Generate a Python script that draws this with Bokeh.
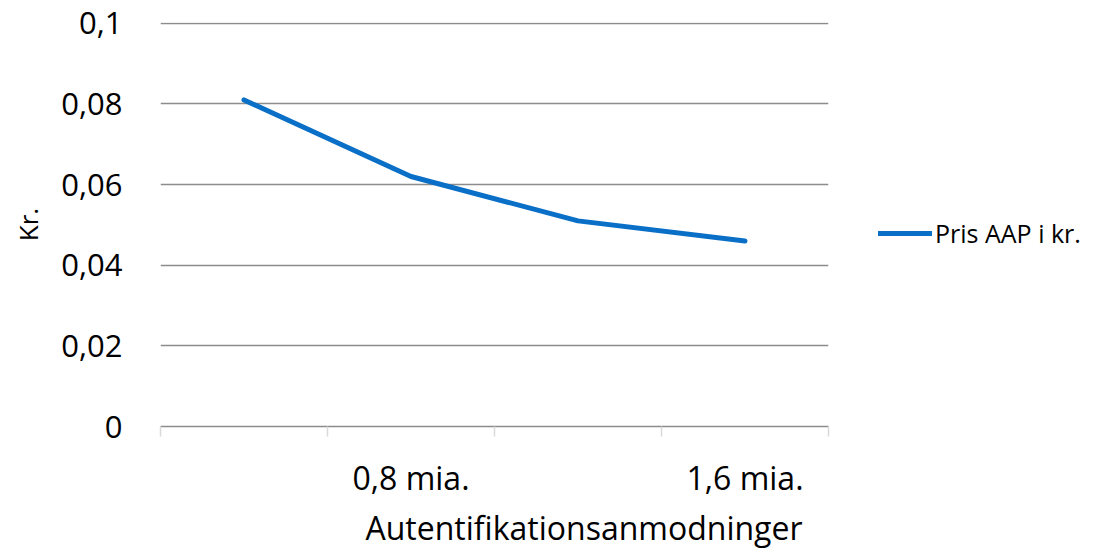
from bokeh.plotting import figure
from bokeh.models import FixedTicker, Legend, LegendItem, Title, ColumnDataSource, Range1d
from bokeh.embed import file_html
from bokeh.resources import INLINE

# data
x_labels = ["", "0,8 mia.", "", "1,6 mia."]
prices = [0.081, 0.062, 0.051, 0.046]
y_ticks = [0, 0.02, 0.04, 0.06, 0.08, 0.1]
y_tick_labels = ["0", "0,02", "0,04", "0,06", "0,08", "0,1"]
series_name = "Pris AAP i kr."
x_title = "Autentifikationsanmodninger"
y_title = "Kr."

FONT = "Open Sans"
xs = list(range(len(prices)))
src = ColumnDataSource(dict(x=xs, y=prices))

p = figure(frame_width=668, frame_height=404, output_backend="svg", toolbar_location=None,
           x_range=Range1d(-0.5, len(prices) - 0.5), y_range=Range1d(0, 0.1002),
           min_border_left=160, min_border_right=10, min_border_top=22, min_border_bottom=10)
p.outline_line_color = None
p.background_fill_color = "white"

r = p.line("x", "y", source=src, line_color="#0A6FC6", line_width=5, line_cap="round", line_join="round")

# y axis
p.yaxis.ticker = FixedTicker(ticks=y_ticks)
p.yaxis.major_label_overrides = {t: l for t, l in zip(y_ticks, y_tick_labels)}
p.yaxis.axis_line_color = None
p.yaxis.major_tick_line_color = None
p.yaxis.minor_tick_line_color = None
p.yaxis.major_label_standoff = 32
p.yaxis.major_label_text_font = FONT
p.yaxis.major_label_text_font_size = "31px"
p.yaxis.major_label_text_color = "black"
p.yaxis.axis_label = y_title
p.yaxis.axis_label_text_font = FONT
p.yaxis.axis_label_text_font_size = "26px"
p.yaxis.axis_label_text_font_style = "normal"
p.yaxis.axis_label_text_color = "black"
p.yaxis.axis_label_standoff = 12

# x axis
p.xaxis.ticker = FixedTicker(ticks=xs, minor_ticks=[i - 0.5 for i in range(len(prices) + 1)])
p.xaxis.major_label_overrides = {i: l for i, l in enumerate(x_labels)}
p.xaxis.axis_line_color = "#8C8C8C"
p.xaxis.axis_line_width = 1.5
p.xaxis.major_tick_line_color = None
p.xaxis.minor_tick_line_color = "#D9D9D9"
p.xaxis.minor_tick_line_width = 1.5
p.xaxis.minor_tick_out = 10
p.xaxis.minor_tick_in = 0
p.xaxis.major_label_standoff = 19
p.xaxis.major_label_text_font = FONT
p.xaxis.major_label_text_font_size = "32px"
p.xaxis.major_label_text_color = "black"

p.xgrid.grid_line_color = None
p.ygrid.grid_line_color = "#8C8C8C"
p.ygrid.grid_line_width = 1.5

title = Title(text=x_title, align="right", offset=26, standoff=4,
              text_font=FONT, text_font_size="32px", text_font_style="normal", text_color="black")
p.add_layout(title, "below")

legend = Legend(items=[LegendItem(label=series_name, renderers=[r])], location=(50, 176),
                glyph_width=54, glyph_height=26, label_standoff=3, padding=0, margin=0,
                border_line_color=None, background_fill_alpha=0,
                label_text_font=FONT, label_text_font_size="25px", label_text_color="black")
p.add_layout(legend, "right")

open("out.html", "w").write(file_html(p, INLINE))
